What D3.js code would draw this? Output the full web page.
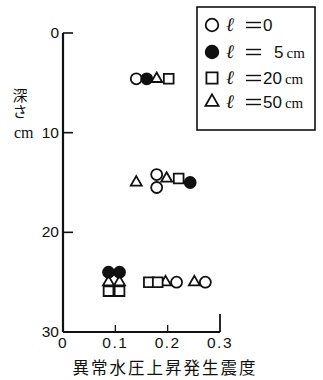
<!DOCTYPE html>
<html>
<head>
<meta charset="utf-8">
<script src="https://cdn.jsdelivr.net/npm/d3@7"></script>
<style>
  body { margin: 0; background: #fff; }
  svg { display: block; }
</style>
</head>
<body>
<svg id="chart" width="323" height="380"></svg>
<script>
// depth (cm) vs. seismic intensity at which abnormal water pressure rose
const xTicks = [0, 0.1, 0.2, 0.3];
const yTicks = [0, 10, 20, 30];

const l0Intensity = [0.140, 0.179, 0.179, 0.217, 0.272];
const l0Depth     = [4.6, 14.2, 15.5, 25.0, 25.0];

const l5Intensity = [0.160, 0.243, 0.087, 0.108];
const l5Depth     = [4.6, 15.0, 24.0, 24.0];

const l20Intensity = [0.202, 0.221, 0.164, 0.181, 0.087, 0.108];
const l20Depth     = [4.6, 14.6, 25.0, 25.0, 25.9, 25.9];

const l50Intensity = [0.179, 0.140, 0.198, 0.196, 0.251, 0.087, 0.108];
const l50Depth     = [4.6, 15.0, 14.6, 25.0, 25.0, 25.0, 25.0];

const legendLabels = ["0", "5", "20", "50"];
const legendUnits  = ["", "cm", "cm", "cm"];

const svg = d3.select("#chart");
const x = d3.scaleLinear().domain([0, 0.3]).range([63, 220]);
const y = d3.scaleLinear().domain([0, 30]).range([33, 332]);

const ink = "#111";
const cjk = "'Noto Sans CJK JP', sans-serif";
const num = "'Liberation Sans', Arial, sans-serif";
const serif = "'Liberation Serif', 'DejaVu Serif', serif";

// axes
const axes = svg.append("g").attr("stroke", ink).attr("fill", "none");
axes.append("line").attr("x1", x(0)).attr("x2", x(0)).attr("y1", y(0)).attr("y2", y(30)).attr("stroke-width", 2.2);
axes.append("line").attr("x1", x(0)).attr("x2", x(0.3)).attr("y1", y(30)).attr("y2", y(30)).attr("stroke-width", 2.2);
yTicks.slice(0, 3).forEach(t => {
  axes.append("line").attr("x1", x(0)).attr("x2", x(0) + 10).attr("y1", y(t)).attr("y2", y(t)).attr("stroke-width", 1.6);
});
xTicks.slice(1).forEach(t => {
  axes.append("line").attr("x1", x(t)).attr("x2", x(t)).attr("y1", y(30)).attr("y2", y(30) - (t === 0.3 ? 18 : 7)).attr("stroke-width", t === 0.3 ? 1.8 : 1.3);
});

// tick labels
svg.append("g").selectAll("text").data(yTicks).join("text")
  .attr("x", x(0) - 4).attr("y", d => y(d) + 5)
  .attr("text-anchor", "end")
  .attr("font-family", num).attr("font-size", 15.5).attr("fill", ink)
  .text(d => d);

svg.append("g").selectAll("text").data(xTicks).join("text")
  .attr("x", d => x(d)).attr("y", y(30) + 16)
  .attr("text-anchor", "middle")
  .attr("font-family", num).attr("font-size", 15.5).attr("fill", ink)
  .attr("letter-spacing", 1.5)
  .text(d => d === 0 ? "0" : d.toFixed(1));

// y title (vertical)
svg.append("text").attr("x", 20).attr("y", 88)
  .attr("writing-mode", "vertical-rl")
  .attr("font-family", cjk).attr("font-size", 15).attr("letter-spacing", 1)
  .attr("fill", ink).text("深さ");
svg.append("text").attr("x", 14).attr("y", y(10) + 5)
  .attr("font-family", serif).attr("font-size", 16).attr("fill", ink).text("cm");

// x title
svg.append("text").attr("x", 165).attr("y", 374).attr("text-anchor", "middle")
  .attr("font-family", cjk).attr("font-size", 16.5).attr("letter-spacing", 2)
  .attr("fill", ink).text("異常水圧上昇発生震度");

// markers
const circle = d3.symbol().type(d3.symbolCircle).size(95);
const square = d3.symbol().type(d3.symbolSquare).size(95);
const tri = d3.symbol().type(d3.symbolTriangle).size(52);

function series(xs, ys, sym, fill) {
  svg.append("g").selectAll("path").data(xs).join("path")
    .attr("transform", (d, i) => `translate(${x(d)},${y(ys[i])})`)
    .attr("d", sym)
    .attr("fill", fill).attr("stroke", ink).attr("stroke-width", 1.8);
}
series(l50Intensity, l50Depth, tri, "#fff");
series(l20Intensity, l20Depth, square, "#fff");
series(l0Intensity, l0Depth, circle, "#fff");
series(l5Intensity, l5Depth, circle, ink);

// legend
const lg = svg.append("g");
lg.append("rect").attr("x", 197).attr("y", 7).attr("width", 118).attr("height", 123)
  .attr("fill", "none").attr("stroke", ink).attr("stroke-width", 1.6);
const legendSyms = [
  d3.symbol().type(d3.symbolCircle).size(125),
  d3.symbol().type(d3.symbolCircle).size(125),
  d3.symbol().type(d3.symbolSquare).size(125),
  d3.symbol().type(d3.symbolTriangle).size(75)
];
const legendFill = ["#fff", ink, "#fff", "#fff"];
const rowY = [25, 52, 78, 102];
legendLabels.forEach((lab, i) => {
  lg.append("path").attr("transform", `translate(212,${rowY[i]})`)
    .attr("d", legendSyms[i]).attr("fill", legendFill[i]).attr("stroke", ink).attr("stroke-width", 1.8);
  lg.append("text").attr("x", 226).attr("y", rowY[i] + 6)
    .attr("font-family", serif).attr("font-style", "italic").attr("font-size", 19).attr("fill", ink).text("ℓ");
  lg.append("line").attr("x1", 246).attr("x2", 261).attr("y1", rowY[i] - 2.5).attr("y2", rowY[i] - 2.5).attr("stroke", ink).attr("stroke-width", 1.4);
  lg.append("line").attr("x1", 246).attr("x2", 261).attr("y1", rowY[i] + 2.5).attr("y2", rowY[i] + 2.5).attr("stroke", ink).attr("stroke-width", 1.4);
  const t = lg.append("text").attr("x", i === 1 ? 274 : 263).attr("y", rowY[i] + 6)
    .attr("font-family", num).attr("font-size", 17).attr("fill", ink);
  t.append("tspan").text(lab);
  if (legendUnits[i]) t.append("tspan").attr("dx", 3).attr("font-family", serif).attr("font-size", 15).text(legendUnits[i]);
});
</script>
</body>
</html>
